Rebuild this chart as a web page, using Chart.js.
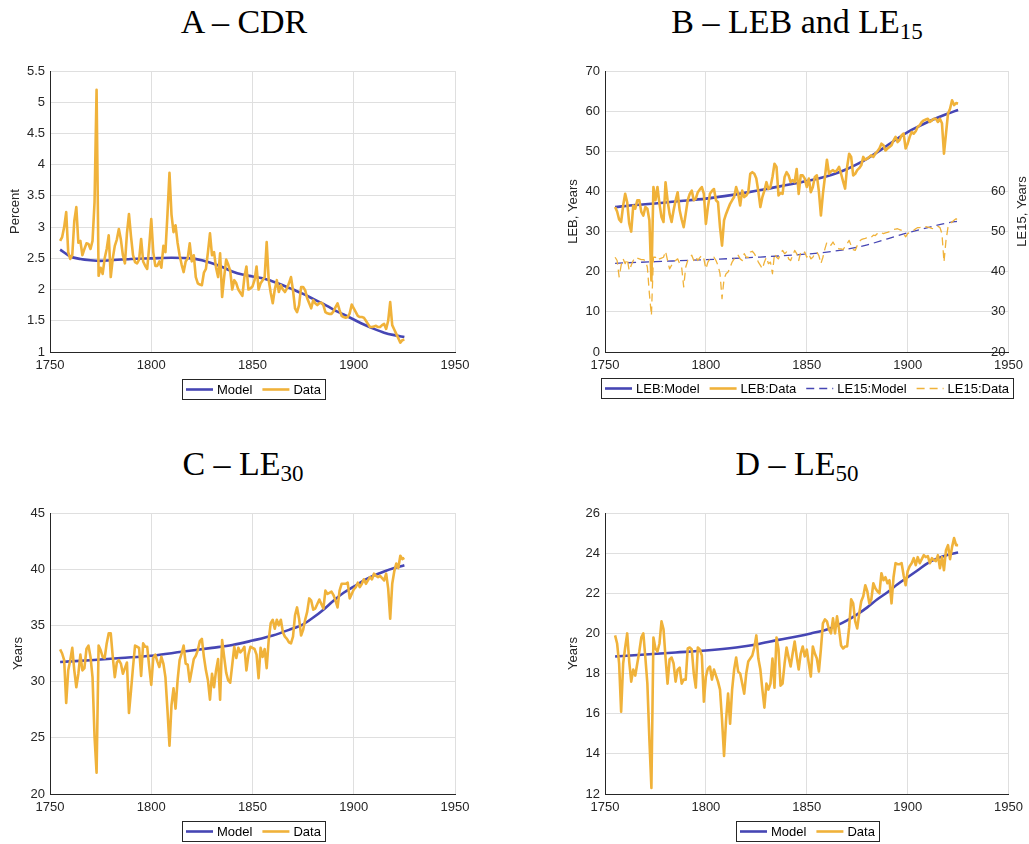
<!DOCTYPE html>
<html lang="en">
<head>
    <meta charset="UTF-8">
    <title>Model vs Data: CDR, LEB, LE15, LE30, LE50</title>
    <script src="https://cdn.jsdelivr.net/npm/chart.js"></script>
    <style>
        body { margin: 0; background: #fff; }
        #page { position: relative; width: 1029px; height: 844px; overflow: hidden; background: #fff; }
        canvas { position: absolute; }
        .title {
            position: absolute;
            font-family: "Liberation Serif", "DejaVu Serif", serif;
            font-size: 34px;
            line-height: 34px;
            text-align: center;
            color: #000;
            white-space: nowrap;
        }
        .title span { font-size: 23px; position: relative; top: 6px; }
    </style>
</head>
<body>
<div id="page">
    <div class="title" style="left:0; top:5px; width:488px;">A – CDR</div>
    <div class="title" style="left:565px; top:5px; width:464px;">B – LEB and LE<span>15</span></div>
    <div class="title" style="left:0; top:447px; width:486px;">C – LE<span>30</span></div>
    <div class="title" style="left:565px; top:447px; width:464px;">D – LE<span>50</span></div>

    <canvas id="cdrChart" width="515" height="422" style="left:0; top:0;"></canvas>
    <canvas id="lebChart" width="474" height="422" style="left:555px; top:0;"></canvas>
    <canvas id="le30Chart" width="515" height="422" style="left:0; top:422px;"></canvas>
    <canvas id="le50Chart" width="474" height="422" style="left:555px; top:422px;"></canvas>
</div>

<script>
    // annual data series start in this year, one value per year up to 1925
    const FIRST_YEAR = 1755;

    // Panel A - crude death rate, percent
    const CDR_DATA = [
        2.78, 2.84, 3.0, 3.24, 2.6, 2.49, 2.55, 3.1, 3.32, 2.75,
        2.78, 2.55, 2.65, 2.74, 2.73, 2.65, 2.78, 3.4, 5.2, 2.22,
        2.35, 2.25, 2.5, 2.65, 2.87, 2.2, 2.5, 2.7, 2.8, 2.97,
        2.8, 2.55, 2.42, 2.9, 3.21, 2.85, 2.55, 2.44, 2.42, 2.48,
        2.81, 2.45, 2.38, 2.33, 2.7, 3.13, 2.6, 2.38, 2.38, 2.45,
        2.35, 2.7, 2.6, 3.2, 3.87, 3.2, 2.92, 3.03, 2.75, 2.55,
        2.4, 2.28, 2.45, 2.5, 2.74, 2.45, 2.55, 2.2, 2.1, 2.08,
        2.07, 2.27, 2.33, 2.6, 2.9, 2.55, 2.6, 2.35, 2.2, 2.58,
        1.88, 2.2, 2.48, 2.4, 2.3, 2.0, 2.15, 2.1, 2.0, 1.95,
        1.9, 2.2, 2.37, 2.0, 2.02, 2.05, 2.15, 2.37, 2.0, 2.1,
        2.15, 2.2, 2.76, 2.15, 1.95, 1.78, 2.0, 2.15, 1.96, 2.07,
        2.0, 1.96, 2.02, 2.1, 2.2, 1.99, 1.7, 1.64, 1.75, 2.04,
        2.04, 1.99, 1.86, 1.78, 1.7, 1.83, 1.78, 1.75, 1.78, 1.79,
        1.75, 1.64, 1.62, 1.61, 1.61, 1.65, 1.72, 1.78, 1.67, 1.58,
        1.56, 1.55, 1.56, 1.62, 1.76, 1.7, 1.64, 1.58, 1.56, 1.56,
        1.55, 1.5, 1.45, 1.4, 1.4, 1.41, 1.42, 1.4, 1.4, 1.43,
        1.45, 1.37, 1.5, 1.8, 1.43, 1.36, 1.29, 1.22, 1.15, 1.19,
        1.2
    ];
    const CDR_MODEL_YEARS = [1755, 1760, 1765, 1770, 1775, 1780, 1790, 1800, 1810, 1820, 1825, 1830, 1835, 1840, 1845,
        1850, 1855, 1860, 1865, 1870, 1875, 1880, 1885, 1890, 1895, 1900, 1905, 1910, 1915, 1920, 1925];
    const CDR_MODEL = [2.64, 2.53, 2.49, 2.47, 2.46, 2.47, 2.49, 2.5, 2.51, 2.5, 2.47, 2.42, 2.36, 2.29, 2.24,
        2.21, 2.18, 2.13, 2.07, 2.0, 1.93, 1.85, 1.77, 1.68, 1.6, 1.52, 1.44, 1.37, 1.31, 1.27, 1.24];

    // Panel B - life expectancy at birth (left axis), years
    const LEB_DATA = [
        36.1, 35.0, 33.0, 32.4, 36.5, 39.4, 37.3, 32.0, 30.0, 36.5,
        35.7, 37.8, 37.8, 34.9, 34.0, 36.1, 35.7, 32.8, 17.8, 41.1,
        37.8, 41.1, 36.9, 33.6, 32.4, 42.3, 37.8, 34.4, 32.4, 35.3,
        37.8, 39.8, 35.3, 33.0, 31.1, 34.4, 37.8, 39.4, 40.2, 37.8,
        38.2, 39.8, 40.5, 41.1, 39.4, 31.9, 36.1, 39.4, 40.1, 40.6,
        37.8, 37.3, 31.1, 26.5, 32.8, 34.4, 35.7, 36.9, 37.8, 38.6,
        41.1, 39.4, 36.5, 40.2, 38.6, 39.0, 39.8, 44.4, 44.8, 44.4,
        43.2, 40.0, 36.1, 38.6, 40.2, 42.3, 40.6, 41.1, 43.6, 46.9,
        46.1, 39.0, 39.6, 39.4, 43.6, 44.8, 44.0, 42.3, 42.8, 42.3,
        45.6, 39.4, 44.0, 44.0, 43.2, 41.1, 43.2, 39.8, 41.1, 43.6,
        44.0, 40.0, 34.0, 39.4, 43.6, 47.9, 44.4, 45.0, 45.3, 44.9,
        45.3, 46.1, 44.4, 42.5, 40.7, 46.1, 49.4, 48.6, 44.0, 44.4,
        45.3, 45.8, 46.5, 48.6, 47.9, 48.2, 48.6, 49.0, 48.6, 49.4,
        50.0, 50.7, 51.9, 51.5, 50.2, 50.7, 51.1, 51.5, 52.7, 53.6,
        52.3, 52.8, 54.0, 54.4, 50.7, 51.9, 53.6, 54.8, 54.4, 55.0,
        56.1, 56.5, 57.3, 57.7, 57.9, 58.1, 57.3, 57.7, 58.1, 58.1,
        57.3, 58.1, 57.0, 49.4, 54.4, 59.4, 60.6, 62.7, 61.5, 62.0,
        61.9
    ];
    const LEB_MODEL_YEARS = [1755, 1765, 1775, 1785, 1800, 1810, 1820, 1830, 1840, 1850, 1860, 1865,
        1870, 1875, 1880, 1885, 1890, 1895, 1900, 1905, 1910, 1915, 1920, 1925];
    const LEB_MODEL = [36.1, 36.6, 37.0, 37.5, 38.2, 38.9, 39.7, 40.6, 41.6, 42.6, 43.8, 44.6,
        45.6, 46.8, 48.2, 49.8, 51.5, 53.2, 54.8, 56.1, 57.3, 58.4, 59.4, 60.3];

    // Panel B - life expectancy at 15 (right axis), years
    const LE15_DATA = [
        43.6, 42.8, 38.7, 41.6, 43.2, 42.0, 43.2, 40.3, 41.6, 42.8,
        43.6, 43.4, 43.2, 43.0, 43.0, 42.8, 41.1, 34.5, 29.1, 43.6,
        43.6, 42.8, 43.2, 43.4, 43.6, 45.1, 42.8, 40.7, 41.6, 42.4,
        42.8, 43.2, 42.0, 41.1, 36.2, 41.1, 42.8, 43.6, 44.1, 42.8,
        43.8, 42.8, 43.5, 44.1, 43.2, 40.7, 42.4, 43.2, 43.2, 43.6,
        42.8, 41.6, 39.5, 33.3, 38.2, 39.5, 39.9, 41.1, 42.4, 43.2,
        43.2, 44.1, 43.2, 42.8, 44.5, 43.6, 43.6, 44.9, 45.1, 44.5,
        43.6, 42.4, 41.6, 40.7, 42.4, 43.6, 42.0, 42.4, 39.5, 44.5,
        43.6, 43.2, 44.5, 45.3, 44.5, 44.9, 43.2, 42.8, 44.0, 45.3,
        44.5, 42.8, 44.9, 44.5, 44.9, 43.6, 44.5, 43.2, 43.6, 44.5,
        44.9, 44.0, 42.0, 43.6, 45.7, 47.4, 47.0, 46.6, 47.4, 46.5,
        46.0, 45.7, 45.7, 45.5, 46.3, 47.0, 47.8, 46.5, 45.5, 45.3,
        46.5, 47.5, 48.0, 48.2, 48.3, 48.5, 48.3, 48.6, 49.1, 49.0,
        49.5, 49.9, 49.7, 49.5, 49.7, 49.8, 50.0, 50.3, 50.5, 50.6,
        50.7, 50.5, 50.3, 49.5, 48.7, 49.5, 49.8, 50.1, 50.3, 50.7,
        51.0, 51.0, 51.2, 51.3, 51.2, 51.1, 51.0, 50.8, 50.7, 51.0,
        51.3, 51.0, 49.5, 42.4, 47.8, 51.1, 52.0, 52.4, 52.8, 53.2,
        52.8
    ];
    const LE15_MODEL_YEARS = [1755, 1775, 1800, 1825, 1850, 1860, 1870, 1880, 1890, 1900, 1910, 1920, 1925];
    const LE15_MODEL = [42.1, 42.5, 43.0, 43.6, 44.4, 44.9, 45.6, 46.7, 48.2, 49.7, 51.0, 52.2, 52.6];

    // Panel C - life expectancy at 30, years
    const LE30_DATA = [
        32.86, 32.5, 31.9, 28.1, 31.0, 31.9, 33.0, 31.0, 29.5, 30.7,
        32.4, 31.0, 31.2, 32.9, 33.2, 32.2, 30.4, 25.1, 21.9, 33.2,
        32.8, 32.2, 32.1, 33.4, 34.3, 34.3, 32.2, 30.4, 31.7, 31.9,
        31.6, 30.7, 31.2, 31.7, 27.2, 29.2, 31.3, 33.2, 33.1, 33.0,
        30.5, 33.4, 33.1, 33.1, 31.3, 29.7, 32.1, 32.4, 31.8, 31.3,
        32.2, 31.6, 30.4, 27.5, 24.3, 27.9, 29.4, 27.6, 30.1, 31.9,
        32.5, 33.2, 31.6, 31.5, 30.0, 31.0, 32.0, 32.3, 32.8, 33.6,
        33.8, 32.2, 31.0, 30.1, 28.4, 30.7, 29.5, 31.0, 32.0, 28.4,
        33.7, 32.2, 30.8, 30.1, 29.9, 31.5, 33.1, 32.1, 33.0, 32.6,
        32.8, 33.1, 31.0, 32.4, 33.1, 33.0, 32.9, 32.4, 30.3, 33.0,
        32.2, 32.9, 31.2, 33.7, 35.2, 35.5, 34.7, 35.5, 35.0, 35.5,
        34.4, 34.0, 33.8, 33.5, 33.4, 34.0, 35.9, 36.6, 35.6, 34.1,
        34.6, 35.5, 36.2, 37.4, 37.2, 36.4, 36.5, 36.9, 37.3, 36.9,
        36.5, 38.1, 37.8, 37.9, 38.0, 37.7, 37.2, 36.6, 38.1, 38.7,
        38.7, 38.7, 38.8, 37.4, 37.8, 38.2, 38.4, 38.8, 38.4, 38.7,
        39.1, 38.7, 39.0, 39.3, 39.1, 39.6, 39.4, 39.3, 39.4, 39.2,
        39.0, 39.6, 38.3, 35.6, 38.7, 39.8, 40.5, 40.1, 41.2, 40.9,
        41.0
    ];
    const LE30_MODEL_YEARS = [1755, 1770, 1785, 1800, 1815, 1830, 1840, 1850, 1860, 1868, 1875,
        1880, 1885, 1890, 1895, 1900, 1905, 1910, 1915, 1920, 1925];
    const LE30_MODEL = [31.75, 31.9, 32.1, 32.3, 32.65, 33.0, 33.25, 33.65, 34.1, 34.6, 35.1,
        35.7, 36.4, 37.2, 37.9, 38.45, 39.0, 39.45, 39.8, 40.1, 40.35];

    // Panel D - life expectancy at 50, years
    const LE50_DATA = [
        19.9, 19.5, 18.5, 16.1, 18.5, 19.3, 20.0, 18.6, 17.6, 18.2,
        17.9, 18.5, 19.1, 19.8, 20.0, 18.8, 17.5, 14.7, 12.3, 19.8,
        19.25, 19.1, 19.5, 20.6, 20.2, 18.8, 17.5, 18.7, 18.8, 18.5,
        17.6, 18.2, 18.3, 17.5, 17.7, 17.7, 19.25, 19.3, 19.2, 18.0,
        17.3, 19.3, 19.2, 18.9, 16.6, 17.85, 18.25, 18.35, 17.7, 18.2,
        17.9, 17.6, 17.2, 15.7, 13.9, 15.7, 17.0, 15.5, 17.2, 18.2,
        18.8, 18.1, 18.0, 17.5, 17.0, 18.0, 18.6, 18.75, 18.9, 19.3,
        19.9, 18.75, 18.2, 17.2, 16.3, 17.5, 17.2, 17.5, 18.75, 17.3,
        19.8, 19.2, 17.4, 17.5, 18.5, 19.3, 18.8, 18.35, 19.0, 19.6,
        18.85, 18.2, 19.0, 19.35, 18.85, 19.2, 18.5, 17.85, 19.35, 19.0,
        18.75, 18.1, 19.2, 20.5, 20.7, 20.6, 20.2, 20.0, 20.75, 20.0,
        20.85, 20.2, 19.4, 19.25, 19.35, 19.35, 20.3, 21.7, 21.5, 20.6,
        20.25, 21.0, 21.6, 21.85, 22.4, 22.1, 21.5, 21.7, 22.5, 22.25,
        22.1, 22.0, 23.0, 22.65, 22.8, 22.5, 22.65, 21.5, 22.8, 23.5,
        23.45, 23.45, 23.5, 22.9, 22.4, 23.1, 23.35, 23.5, 23.75, 23.4,
        23.8, 23.5, 23.7, 23.9, 23.8, 23.85, 23.5, 23.75, 23.65, 23.6,
        23.9, 23.25, 23.8, 23.15, 24.15, 24.4, 23.7, 24.3, 24.75, 24.4,
        24.4
    ];
    const LE50_MODEL_YEARS = [1755, 1770, 1785, 1800, 1815, 1825, 1836, 1845, 1852, 1860, 1865, 1870,
        1875, 1880, 1885, 1890, 1895, 1900, 1905, 1910, 1915, 1920, 1925];
    const LE50_MODEL = [18.85, 18.95, 19.05, 19.15, 19.3, 19.45, 19.68, 19.85, 20.0, 20.2, 20.4, 20.65,
        20.95, 21.3, 21.7, 22.05, 22.45, 22.8, 23.15, 23.5, 23.75, 23.92, 24.03];

    const AXIS = '#262626';
    const GRID = '#dfdfdf';
    const BLUE = '#4646b4';
    const ORANGE = '#f0b23a';
    const FONT_FAMILY = '"Liberation Sans", Arial, sans-serif';
    const TICK_FONT = { family: FONT_FAMILY, size: 13 };

    function annual(values) {
        return values.map((v, i) => ({ x: FIRST_YEAR + i, y: v }));
    }

    function pairs(years, values) {
        return years.map((yr, i) => ({ x: yr, y: values[i] }));
    }

    function fmt(v) {
        return String(Number(v.toFixed(2)));
    }

    // boxed legend under the x axis, like the matlab one
    const boxLegend = {
        id: 'boxLegend',
        afterDraw(chart, args, opts) {
            const ctx = chart.ctx;
            ctx.save();
            ctx.font = '13px ' + FONT_FAMILY;
            const items = chart.data.datasets.map(ds => ({
                text: ds.label,
                color: ds.borderColor,
                width: ds.borderWidth,
                dash: ds.borderDash || []
            }));
            let total = 8;
            items.forEach((it, i) => {
                it.w = ctx.measureText(it.text).width;
                total += 31 + it.w + (i < items.length - 1 ? 10 : 0);
            });
            const left = Math.round(opts.cx - total / 2);
            const top = opts.y;
            const h = 20;
            ctx.fillStyle = '#fff';
            ctx.fillRect(left, top, total, h);
            ctx.strokeStyle = AXIS;
            ctx.lineWidth = 1;
            ctx.strokeRect(left + 0.5, top + 0.5, Math.round(total), h);
            const cy = top + h / 2 + 0.5;
            let x = left + 4;
            items.forEach(it => {
                ctx.beginPath();
                ctx.setLineDash(it.dash);
                ctx.strokeStyle = it.color;
                ctx.lineWidth = it.width;
                ctx.moveTo(x, cy);
                ctx.lineTo(x + 27, cy);
                ctx.stroke();
                ctx.setLineDash([]);
                ctx.fillStyle = '#000';
                ctx.textAlign = 'left';
                ctx.textBaseline = 'middle';
                ctx.fillText(it.text, x + 31, cy + 0.5);
                x += 31 + it.w + 10;
            });
            ctx.restore();
        }
    };

    // right axis title reads bottom to top in the original
    const rightTitle = {
        id: 'rightTitle',
        afterDraw(chart, args, opts) {
            if (!opts || !opts.text) return;
            const ctx = chart.ctx;
            ctx.save();
            ctx.translate(opts.x, (chart.chartArea.top + chart.chartArea.bottom) / 2);
            ctx.rotate(-Math.PI / 2);
            ctx.font = '13px ' + FONT_FAMILY;
            ctx.fillStyle = AXIS;
            ctx.textAlign = 'center';
            ctx.textBaseline = 'middle';
            ctx.fillText(opts.text, 0, 0);
            ctx.restore();
        }
    };

    function xAxis() {
        return {
            type: 'linear',
            min: 1750,
            max: 1950,
            ticks: { stepSize: 50, color: AXIS, font: TICK_FONT, padding: 6, maxRotation: 0, callback: v => String(v) },
            grid: { color: GRID, drawTicks: false },
            border: { color: AXIS, width: 1 },
            afterFit: s => { s.height = 22; }
        };
    }

    function yAxis(min, max, step, title, titlePad) {
        return {
            type: 'linear',
            position: 'left',
            min: min,
            max: max,
            ticks: { stepSize: step, color: AXIS, font: TICK_FONT, padding: 5, callback: v => fmt(v) },
            grid: { color: GRID, drawTicks: false },
            border: { color: AXIS, width: 1 },
            title: { display: true, text: title, color: AXIS, font: TICK_FONT, padding: { top: titlePad, bottom: 0 } },
            afterFit: s => { s.width = 50; }
        };
    }

    function modelSet(label, data, extra) {
        return Object.assign({
            label: label, data: data, borderColor: BLUE, borderWidth: 2.6, pointRadius: 0,
            tension: 0.4, cubicInterpolationMode: 'monotone', order: 1
        }, extra || {});
    }

    function dataSet(label, data, extra) {
        return Object.assign({
            label: label, data: data, borderColor: ORANGE, borderWidth: 2.6, pointRadius: 0,
            tension: 0, borderJoinStyle: 'round', order: 0
        }, extra || {});
    }

    function baseOptions(padding, legendPos, scales, extraPlugins) {
        return {
            responsive: false,
            animation: false,
            devicePixelRatio: 1,
            layout: { padding: padding },
            plugins: Object.assign({
                legend: { display: false },
                tooltip: { enabled: false },
                boxLegend: legendPos
            }, extraPlugins || {}),
            scales: scales
        };
    }

    new Chart(document.getElementById('cdrChart'), {
        type: 'line',
        data: {
            datasets: [
                modelSet('Model', pairs(CDR_MODEL_YEARS, CDR_MODEL)),
                dataSet('Data', annual(CDR_DATA))
            ]
        },
        options: baseOptions({ top: 71, left: 0, right: 60, bottom: 48 }, { cx: 253, y: 379 }, {
            x: xAxis(),
            y: yAxis(1, 5.5, 0.5, 'Percent', 8)
        }),
        plugins: [boxLegend]
    });

    const lebY1 = {
        type: 'linear',
        position: 'right',
        min: 20,
        max: 90,
        ticks: {
            stepSize: 10, color: AXIS, font: TICK_FONT, mirror: true, padding: -3,
            callback: v => (v <= 60 ? String(v) : '')
        },
        grid: { display: false, drawTicks: false },
        border: { display: false },
        afterFit: s => { s.width = 19; }
    };

    new Chart(document.getElementById('lebChart'), {
        type: 'line',
        data: {
            datasets: [
                modelSet('LEB:Model', pairs(LEB_MODEL_YEARS, LEB_MODEL), { yAxisID: 'y' }),
                dataSet('LEB:Data', annual(LEB_DATA), { yAxisID: 'y' }),
                modelSet('LE15:Model', pairs(LE15_MODEL_YEARS, LE15_MODEL), { yAxisID: 'y1', borderWidth: 1.3, borderDash: [8, 5] }),
                dataSet('LE15:Data', annual(LE15_DATA), { yAxisID: 'y1', borderWidth: 1.3, borderDash: [8, 5] })
            ]
        },
        options: baseOptions({ top: 71, left: 0, right: 0, bottom: 48 }, { cx: 252, y: 378 }, {
            x: xAxis(),
            y: yAxis(0, 70, 10, 'LEB, Years', 11),
            y1: lebY1
        }, { rightTitle: { text: 'LE15, Years', x: 467 } }),
        plugins: [boxLegend, rightTitle]
    });

    new Chart(document.getElementById('le30Chart'), {
        type: 'line',
        data: {
            datasets: [
                modelSet('Model', pairs(LE30_MODEL_YEARS, LE30_MODEL)),
                dataSet('Data', annual(LE30_DATA))
            ]
        },
        options: baseOptions({ top: 91, left: 0, right: 60, bottom: 28 }, { cx: 253, y: 399 }, {
            x: xAxis(),
            y: yAxis(20, 45, 5, 'Years', 11)
        }),
        plugins: [boxLegend]
    });

    new Chart(document.getElementById('le50Chart'), {
        type: 'line',
        data: {
            datasets: [
                modelSet('Model', pairs(LE50_MODEL_YEARS, LE50_MODEL)),
                dataSet('Data', annual(LE50_DATA))
            ]
        },
        options: baseOptions({ top: 91, left: 0, right: 19, bottom: 28 }, { cx: 252, y: 399 }, {
            x: xAxis(),
            y: yAxis(12, 26, 2, 'Years', 11)
        }),
        plugins: [boxLegend]
    });
</script>
</body>
</html>
